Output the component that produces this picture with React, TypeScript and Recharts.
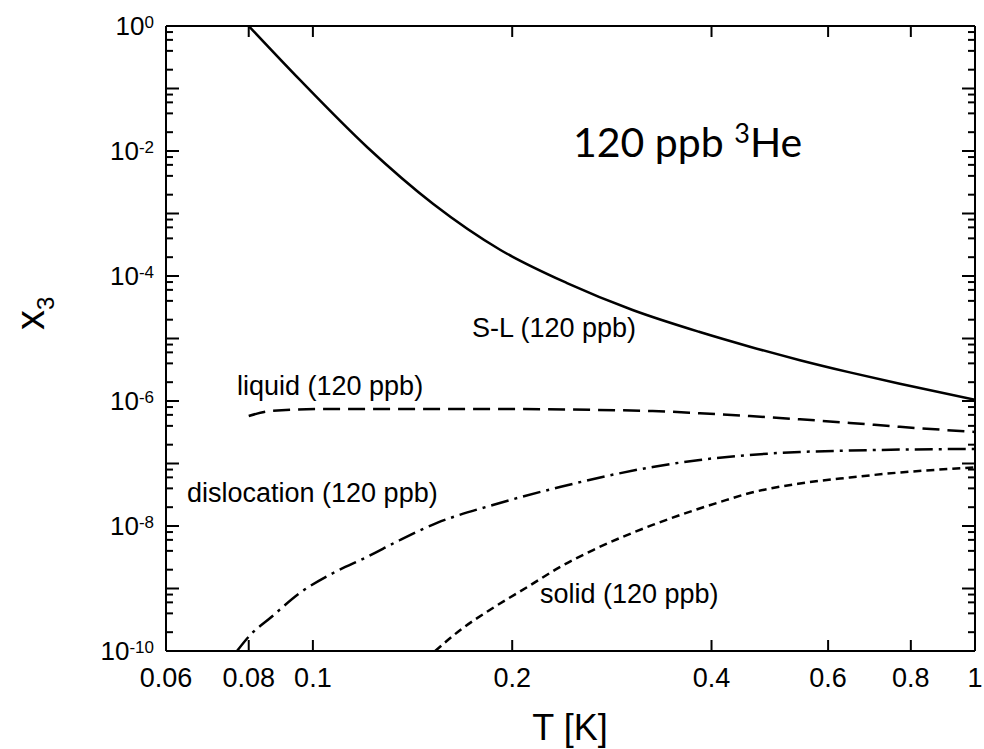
import { LineChart, Line, XAxis, YAxis } from 'recharts';

// temperature T [K] and 3He concentration x3
const slT = [0.08, 0.0956, 0.1207, 0.152, 0.192, 0.242, 0.304, 0.384, 0.457, 0.544, 0.647, 0.77, 1];
const slX = [1, 0.137, 1.16e-2, 1.42e-3, 2.61e-4, 7.7e-5, 2.86e-5, 1.27e-5, 7.4e-6, 4.5e-6, 2.87e-6, 1.89e-6, 1.05e-6];

const liqT = [0.08, 0.0862, 0.105, 0.187, 0.326, 0.384, 0.457, 0.544, 0.647, 0.77, 1];
const liqX = [5.75e-7, 6.9e-7, 7.45e-7, 7.45e-7, 6.9e-7, 6.37e-7, 5.74e-7, 5.09e-7, 4.46e-7, 3.86e-7, 3.2e-7];

const disT = [0.0768, 0.0804, 0.0862, 0.0956, 0.1073, 0.1207, 0.1354, 0.154, 0.187, 0.236, 0.326, 0.384, 0.457, 0.544, 0.647, 0.77, 1];
const disX = [1.0e-10, 1.8e-10, 3.37e-10, 8.5e-10, 1.77e-9, 3.2e-9, 5.97e-9, 1.12e-8, 2.17e-8, 4.2e-8, 8.8e-8, 1.14e-7, 1.37e-7, 1.53e-7, 1.61e-7, 1.67e-7, 1.71e-7];

const solT = [0.153, 0.167, 0.187, 0.211, 0.236, 0.265, 0.326, 0.412, 0.457, 0.544, 0.647, 0.77, 1];
const solX = [1.0e-10, 2.17e-10, 4.88e-10, 1.06e-9, 2.2e-9, 4.13e-9, 1.04e-8, 2.42e-8, 3.37e-8, 4.79e-8, 5.97e-8, 7.18e-8, 8.63e-8];

const xTicks = [0.06, 0.08, 0.1, 0.2, 0.4, 0.6, 0.8, 1];
const xTickLabels = ['0.06', '0.08', '0.1', '0.2', '0.4', '0.6', '0.8', '1'];
const decades = [-10, -9, -8, -7, -6, -5, -4, -3, -2, -1, 0];
const minorSteps = [2, 4, 6, 8];

const toRows = (ts: number[], xs: number[]) => ts.map((t, i) => ({ t, x: xs[i] }));

const slData = toRows(slT, slX);
const liqData = toRows(liqT, liqX);
const disData = toRows(disT, disX);
const solData = toRows(solT, solX);

const yTicks: number[] = [];
decades.forEach((d) => {
  yTicks.push(Math.pow(10, d));
  if (d < 0) minorSteps.forEach((m) => yTicks.push(m * Math.pow(10, d)));
});

const FONT = '"Liberation Sans", Arial, sans-serif';

// eslint-disable-next-line @typescript-eslint/no-explicit-any
function YTick(props: any) {
  const { x, y, payload, side } = props;
  const lg = Math.log10(payload.value);
  const e = Math.round(lg);
  const major = Math.abs(lg - e) < 1e-6;
  const len = major ? 13 : 7;
  const dir = side === 'left' ? 1 : -1;
  return (
    <g>
      <line x1={x} x2={x + dir * len} y1={y} y2={y} stroke="#000" strokeWidth={2} />
      {side === 'left' && major && e % 2 === 0 && (
        <text x={x - 12} y={y + 9} textAnchor="end" fontFamily={FONT} fontSize={26} fill="#000">
          10
          <tspan dy={-7} fontSize={17}>
            {String(e)}
          </tspan>
        </text>
      )}
    </g>
  );
}

// eslint-disable-next-line @typescript-eslint/no-explicit-any
function XTick(props: any) {
  const { x, y, payload, side } = props;
  const dir = side === 'bottom' ? -1 : 1;
  const idx = xTicks.indexOf(payload.value);
  return (
    <g>
      <line x1={x} x2={x} y1={y} y2={y + dir * 11} stroke="#000" strokeWidth={2} />
      {side === 'bottom' && (
        <text x={x} y={y + 36} textAnchor="middle" fontFamily={FONT} fontSize={27} fill="#000">
          {xTickLabels[idx]}
        </text>
      )}
    </g>
  );
}

const axisLine = { stroke: '#000', strokeWidth: 2 };

export default function App() {
  return (
    <div style={{ position: 'absolute', left: 0, top: 0, width: 984, height: 749, background: '#fff' }}>
      <LineChart width={984} height={749} margin={{ top: 25, right: 8, bottom: 97, left: 165 }}>
        <XAxis
          xAxisId="b"
          dataKey="t"
          type="number"
          scale="log"
          domain={[0.06, 1]}
          allowDataOverflow
          ticks={xTicks}
          interval={0}
          height={1}
          tickSize={0}
          tickMargin={0}
          tickLine={false}
          axisLine={axisLine}
          tick={(p) => <XTick {...p} side="bottom" />}
        />
        <XAxis
          xAxisId="t"
          orientation="top"
          dataKey="t"
          type="number"
          scale="log"
          domain={[0.06, 1]}
          allowDataOverflow
          ticks={xTicks}
          interval={0}
          height={1}
          tickSize={0}
          tickMargin={0}
          tickLine={false}
          axisLine={axisLine}
          tick={(p) => <XTick {...p} side="top" />}
        />
        <YAxis
          yAxisId="l"
          type="number"
          scale="log"
          domain={[1e-10, 1]}
          allowDataOverflow
          ticks={yTicks}
          interval={0}
          width={1}
          tickSize={0}
          tickMargin={0}
          tickLine={false}
          axisLine={axisLine}
          tick={(p) => <YTick {...p} side="left" />}
        />
        <YAxis
          yAxisId="r"
          orientation="right"
          type="number"
          scale="log"
          domain={[1e-10, 1]}
          allowDataOverflow
          ticks={yTicks}
          interval={0}
          width={1}
          tickSize={0}
          tickMargin={0}
          tickLine={false}
          axisLine={axisLine}
          tick={(p) => <YTick {...p} side="right" />}
        />
        <Line xAxisId="t" yAxisId="r" data={slData} dataKey="x" stroke="none" dot={false} activeDot={false} isAnimationActive={false} />
        <Line xAxisId="b" yAxisId="l" data={slData} dataKey="x" type="monotone" stroke="#000" strokeWidth={2.5} dot={false} isAnimationActive={false} />
        <Line xAxisId="b" yAxisId="l" data={liqData} dataKey="x" type="monotone" stroke="#000" strokeWidth={2.5} strokeDasharray="17 8" dot={false} isAnimationActive={false} />
        <Line xAxisId="b" yAxisId="l" data={disData} dataKey="x" type="monotone" stroke="#000" strokeWidth={2.5} strokeDasharray="18 6 3 6" dot={false} isAnimationActive={false} />
        <Line xAxisId="b" yAxisId="l" data={solData} dataKey="x" type="monotone" stroke="#000" strokeWidth={2.5} strokeDasharray="8 5" dot={false} isAnimationActive={false} />
      </LineChart>
      <svg width={984} height={749} style={{ position: 'absolute', left: 0, top: 0, pointerEvents: 'none' }}>
        <text x={573} y={157} fontFamily='Lato, "Noto Sans", sans-serif' fontSize={41} fill="#000">
          120 ppb <tspan dy={-14} fontSize={27}>3</tspan>
          <tspan dy={14}>He</tspan>
        </text>
        <text x={472} y={337} fontFamily={FONT} fontSize={27} fill="#000">S-L (120 ppb)</text>
        <text x={237} y={395} fontFamily={FONT} fontSize={27} fill="#000">liquid (120 ppb)</text>
        <text x={187} y={502} fontFamily={FONT} fontSize={27} fill="#000">dislocation (120 ppb)</text>
        <text x={540} y={603} fontFamily={FONT} fontSize={27} fill="#000">solid (120 ppb)</text>
        <text x={570} y={740} textAnchor="middle" fontFamily={FONT} fontSize={36} fill="#000">T [K]</text>
        <text transform="translate(44 330) rotate(-90)" fontFamily={FONT} fontSize={40} fill="#000">
          x<tspan dy={10} fontSize={24}>3</tspan>
        </text>
      </svg>
    </div>
  );
}
